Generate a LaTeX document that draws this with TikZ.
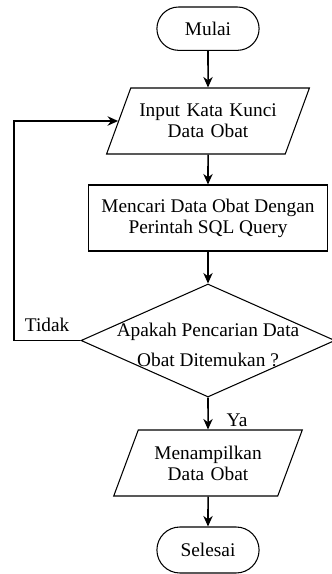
\documentclass[tikz,border=0pt]{standalone}
\usepackage{fontspec}
\setmainfont{Liberation Serif}
\usetikzlibrary{shapes.geometric,shapes.misc,arrows.meta}

\begin{document}
\begin{tikzpicture}[>={Stealth[length=9pt,width=8pt]}, every node/.style={font=\fontsize{16.5}{18}\selectfont},
    terminal/.style={draw, line width=0.9pt, rounded rectangle, minimum width=3.3cm, minimum height=1.3cm},
    io/.style={draw, line width=0.9pt, trapezium, trapezium left angle=60, trapezium right angle=120, trapezium stretches=true, minimum height=1.98cm, align=center},
    process/.style={draw, line width=0.9pt, minimum width=7.17cm, minimum height=1.98cm, align=center},
    decision/.style={draw, line width=0.9pt, diamond, minimum width=7.62cm, minimum height=3.39cm, inner sep=0pt},
    flow/.style={->, line width=1.3pt}]
        \useasboundingbox (0,0) rectangle (9.96,-17.22);

        \node[terminal] (mulai) at (6.24,-0.86) {Mulai};
        \node[io, text width=4.4cm] (inp) at (6.24,-3.63) {Input Kata Kunci\\Data Obat};
        \node[process] (cari) at (6.24,-6.54) {Mencari Data Obat Dengan\\Perintah SQL Query};
        \node[decision, label={[align=center, yshift=-0.13cm]center:Apakah Pencarian Data\\[7.6pt]Obat Ditemukan ?}] (cek) at (6.24,-10.215) {};
        \node[io, text width=3.95cm] (tampil) at (6.24,-13.89) {Menampilkan\\Data Obat};
        \node[terminal, minimum height=1.38cm] (selesai) at (6.24,-16.5) {Selesai};

        \draw[flow] (mulai) -- (inp);
        \draw[flow] (inp) -- (cari);
        \draw[flow] (cari) -- (cek);
        \draw[flow] (cek) -- node[pos=0.7, right=12pt] {Ya} (tampil);
        \draw[flow] (tampil) -- (selesai);
        \draw[flow] (cek.west) -- node[above=3.6pt] {Tidak} ++(-2.0,0) |- (inp.west);
    \end{tikzpicture}
\end{document}
